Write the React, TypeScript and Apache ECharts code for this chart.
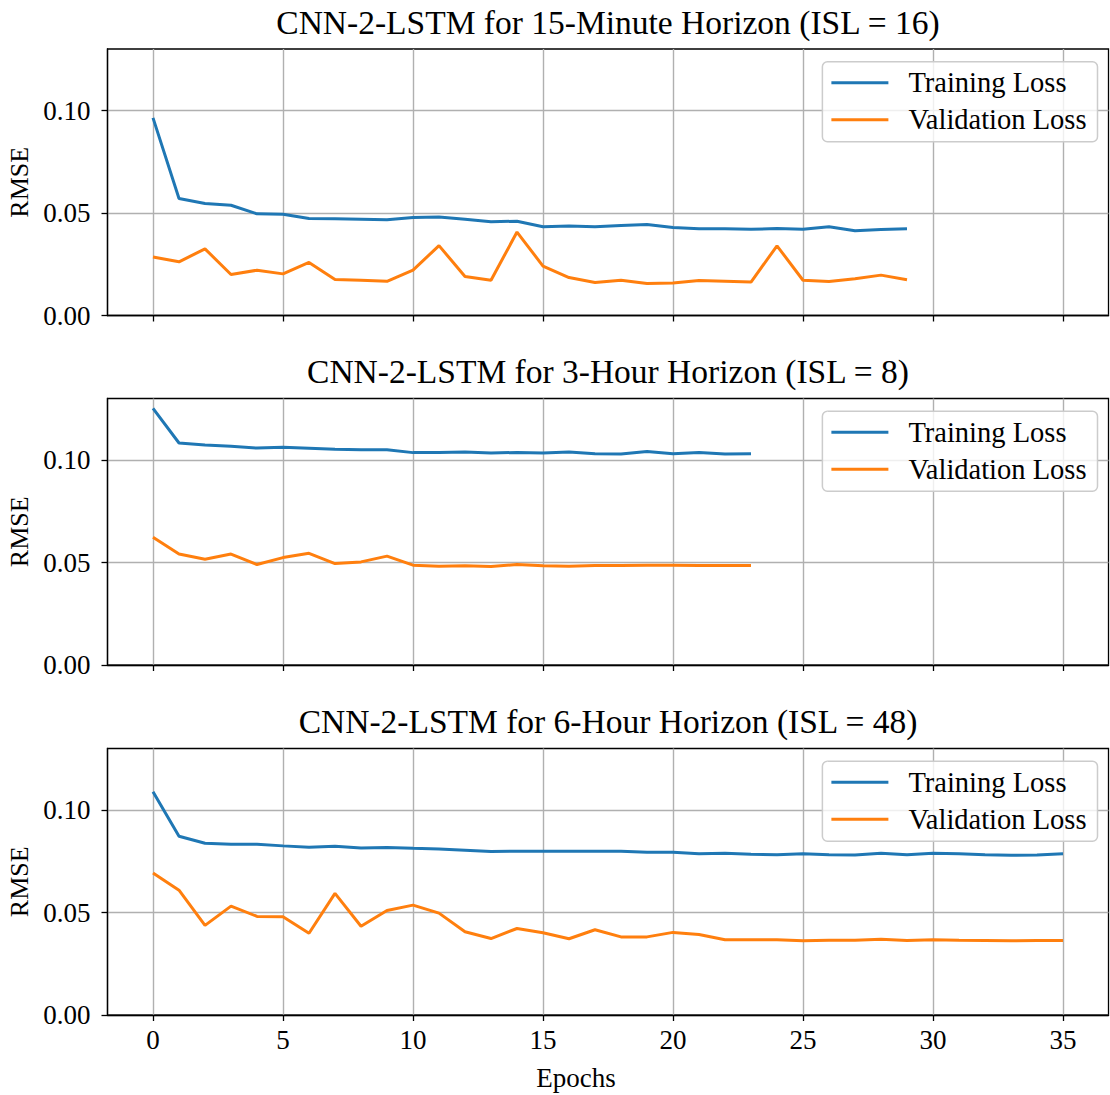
import React, { useEffect, useRef } from "react";
import * as echarts from "echarts";

const titles = [
  "CNN-2-LSTM for 15-Minute Horizon (ISL = 16)",
  "CNN-2-LSTM for 3-Hour Horizon (ISL = 8)",
  "CNN-2-LSTM for 6-Hour Horizon (ISL = 48)",
];
const seriesNames = ["Training Loss", "Validation Loss"];
const xTicks = [0, 5, 10, 15, 20, 25, 30, 35];
const yTicks = [0, 0.05, 0.1];

const train15m = [0.0964, 0.0571, 0.0546, 0.0538, 0.0496, 0.0494, 0.0473, 0.0472, 0.047, 0.0467, 0.0478, 0.0481, 0.047, 0.0457, 0.046, 0.0433, 0.0436, 0.0433, 0.0439, 0.0444, 0.0429, 0.0423, 0.0423, 0.0421, 0.0424, 0.0421, 0.0433, 0.0413, 0.042, 0.0423];
const val15m = [0.0285, 0.0262, 0.0325, 0.02, 0.0221, 0.0203, 0.0259, 0.0176, 0.0172, 0.0167, 0.0221, 0.0341, 0.019, 0.0172, 0.0407, 0.0241, 0.0185, 0.0161, 0.0172, 0.0156, 0.0158, 0.0171, 0.0167, 0.0163, 0.034, 0.0172, 0.0166, 0.0179, 0.0197, 0.0174];
const train3h = [0.1252, 0.1083, 0.1073, 0.1067, 0.1058, 0.1062, 0.1057, 0.1052, 0.105, 0.105, 0.1036, 0.1037, 0.1039, 0.1034, 0.1037, 0.1034, 0.1039, 0.1031, 0.1029, 0.1041, 0.1031, 0.1037, 0.1029, 0.1031];
const val3h = [0.0623, 0.0541, 0.0516, 0.0541, 0.049, 0.0524, 0.0545, 0.0495, 0.0503, 0.0531, 0.0487, 0.0482, 0.0484, 0.0481, 0.049, 0.0484, 0.0482, 0.0485, 0.0485, 0.0487, 0.0487, 0.0485, 0.0485, 0.0485];
const train6h = [0.1089, 0.0872, 0.0838, 0.0833, 0.0833, 0.0825, 0.0818, 0.0823, 0.0815, 0.0817, 0.0813, 0.081, 0.0804, 0.0797, 0.0799, 0.0799, 0.0799, 0.0799, 0.0799, 0.0794, 0.0794, 0.0787, 0.0789, 0.0784, 0.0782, 0.0786, 0.0782, 0.0781, 0.0789, 0.0782, 0.0789, 0.0786, 0.0782, 0.0779, 0.0781, 0.0787];
const val6h = [0.0693, 0.0609, 0.0437, 0.0531, 0.0481, 0.0479, 0.0399, 0.0593, 0.0433, 0.051, 0.0536, 0.0497, 0.0406, 0.0373, 0.0422, 0.0401, 0.0372, 0.0416, 0.0381, 0.0381, 0.0403, 0.0393, 0.0367, 0.0367, 0.0367, 0.0362, 0.0365, 0.0365, 0.0369, 0.0364, 0.0367, 0.0365, 0.0364, 0.0362, 0.0364, 0.0364];

const panels = [
  [train15m, val15m],
  [train3h, val3h],
  [train6h, val6h],
];

const FONT = "Liberation Serif";
const COLORS = ["#1f77b4", "#ff7f0e"];

export default function App() {
  const ref = useRef<HTMLDivElement>(null);
  useEffect(() => {
    if (!ref.current) return;
    const chart = echarts.init(ref.current, null, { renderer: "svg" });
    const gridTops = [49, 398.5, 748.5];
    const gridH = 266.5;
    const grid = gridTops.map((t) => ({
      left: 107.5,
      right: 1.5,
      top: t,
      height: gridH,
      show: true,
      borderColor: "#000",
      borderWidth: 1.3,
      backgroundColor: "transparent",
      containLabel: false,
      outerBoundsMode: "none",
    }));
    const xAxis = gridTops.map((_, i) => ({
      type: "value",
      gridIndex: i,
      min: -1.75,
      max: 36.75,
      axisLine: { show: true, onZero: false, lineStyle: { color: "#000", width: 1.3 } },
      axisTick: { show: true, customValues: xTicks, length: 6, lineStyle: { color: "#000", width: 1.3 } },
      axisLabel: {
        show: i === 2,
        customValues: xTicks,
        margin: 11,
        fontFamily: FONT,
        fontSize: 27,
        color: "#000",
      },
      splitLine: { show: true, lineStyle: { color: "#b0b0b0", width: 1.4 } },
    }));
    const yAxis = gridTops.map((_, i) => ({
      type: "value",
      gridIndex: i,
      min: 0,
      max: 0.13,
      name: "RMSE",
      nameLocation: "middle",
      nameRotate: 90,
      nameGap: 73,
      nameTextStyle: { fontFamily: FONT, fontSize: 26, color: "#000" },
      axisLine: { show: true, onZero: false, lineStyle: { color: "#000", width: 1.3 } },
      axisTick: { show: true, customValues: yTicks, length: 6, lineStyle: { color: "#000", width: 1.3 } },
      axisLabel: {
        customValues: yTicks,
        margin: 17,
        fontFamily: FONT,
        fontSize: 27,
        color: "#000",
        formatter: (v: number) => v.toFixed(2),
      },
      splitLine: { show: true, lineStyle: { color: "#b0b0b0", width: 1.4 } },
    }));
    const series: any[] = [];
    panels.forEach((p, gi) => {
      p.forEach((arr, si) => {
        series.push({
          type: "line",
          name: seriesNames[si],
          xAxisIndex: gi,
          yAxisIndex: gi,
          data: arr.map((v, k) => [k, v]),
          showSymbol: false,
          symbol: "none",
          lineStyle: { color: COLORS[si], width: 3 },
          itemStyle: { color: COLORS[si] },
          z: 3,
        });
      });
    });
    const title = titles.map((t, i) => ({
      text: t,
      left: 608,
      top: gridTops[i] - 44,
      textAlign: "center",
      padding: 0,
      textStyle: { fontFamily: FONT, fontSize: 33.5, fontWeight: "normal", color: "#000" },
    }));
    const legend = gridTops.map((t) => ({
      orient: "vertical",
      right: 12.5,
      top: t + 12.7,
      data: seriesNames.map((n) => ({ name: n, icon: "rect" })),
      itemWidth: 57,
      itemHeight: 3,
      itemGap: 7,
      selectedMode: false,
      padding: [6, 11, 7, 9],
      backgroundColor: "rgba(255,255,255,0.8)",
      borderColor: "#cccccc",
      borderWidth: 1.5,
      borderRadius: 5,
      textStyle: {
        fontFamily: FONT,
        fontSize: 28.5,
        color: "#000",
        lineHeight: 30,
        padding: [0, 0, 0, 15],
      },
    }));
    chart.setOption({
      animation: false,
      backgroundColor: "#fff",
      title,
      legend,
      grid,
      xAxis,
      yAxis,
      series,
      graphic: [
        {
          type: "text",
          x: 576,
          y: 1078,
          style: {
            text: "Epochs",
            fontFamily: FONT,
            fontSize: 27,
            fill: "#000",
            align: "center",
            verticalAlign: "middle",
          },
        },
      ],
    });
    return () => chart.dispose();
  }, []);
  return (
    <div
      ref={ref}
      style={{ position: "absolute", left: 0, top: 0, width: 1110, height: 1095 }}
    />
  );
}
